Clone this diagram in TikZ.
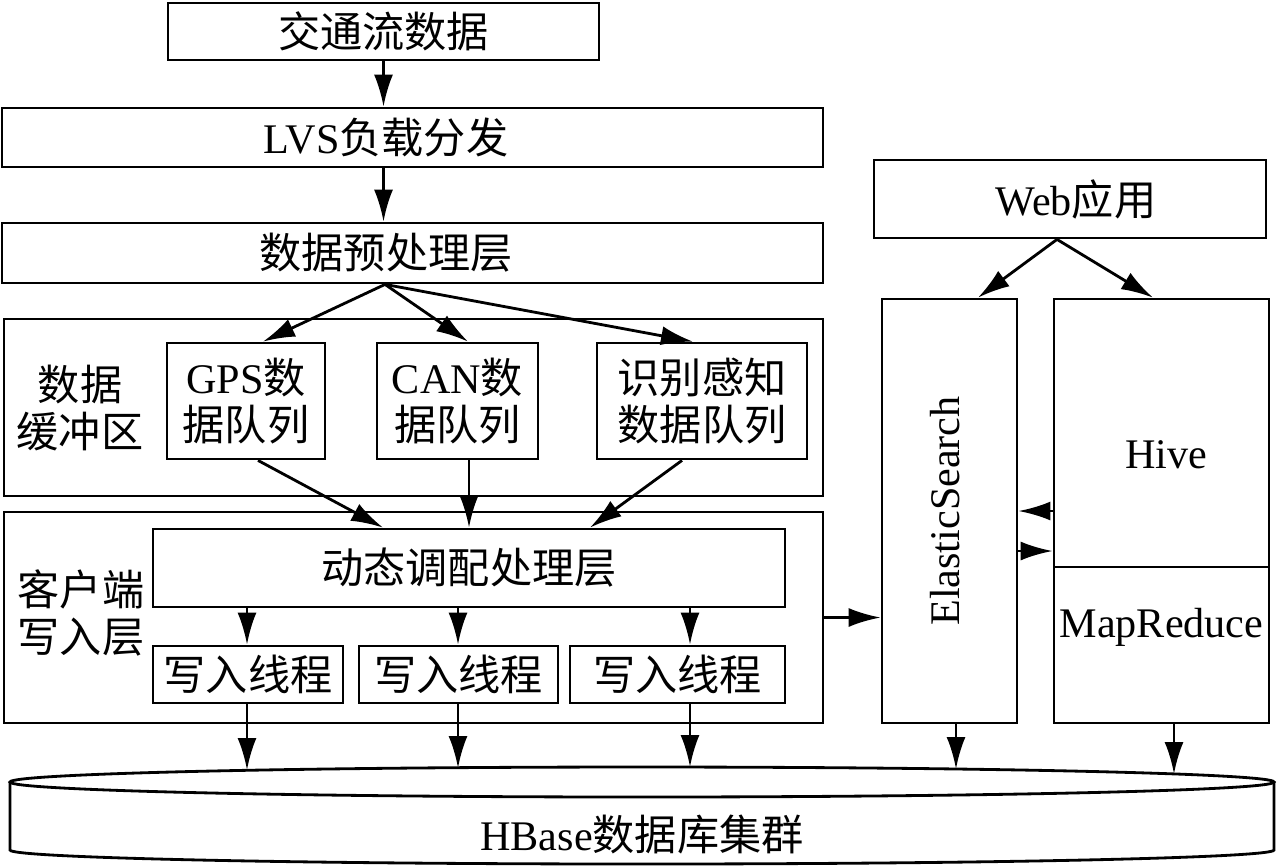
\documentclass[tikz,border=0pt]{standalone}
\usepackage{fontspec}
\setmainfont{Liberation Serif}
\newfontfamily\cjk{Noto Sans CJK SC}
\usetikzlibrary{arrows.meta,calc}

\tikzset{
  box/.style={draw,line width=1.6pt,inner sep=0pt},
  arr/.style={-{Latex[length=0.64cm,width=0.38cm]},line width=1.6pt},
}

\begin{document}
\begin{tikzpicture}[x=0.02cm,y=-0.02cm,font=\fontsize{24}{27}\selectfont\cjk]
\useasboundingbox (0,0) rectangle (1280,867);

% input chain
\node[box,minimum width=8.62cm,minimum height=1.14cm] (src) at (383.5,31.5) {交通流数据};
\node[box,minimum width=16.42cm,minimum height=1.18cm,
  label={[xshift=-0.53cm]center:{{\rmfamily LVS}负载分发}}] (lvs) at (412.5,137.5) {};
\node[box,minimum width=16.42cm,minimum height=1.2cm,
  label={[xshift=-0.53cm]center:{数据预处理层}}] (pre) at (412.5,253) {};

% buffer area
\node[box,minimum width=16.38cm,minimum height=3.54cm] (buf) at (413.5,407.5) {};
\node[align=center] (buftxt) at (80,408) {数据\\缓冲区};
\node[box,align=center,minimum width=3.16cm,minimum height=2.32cm] (gps) at (246,401) {{\rmfamily GPS}数\\据队列};
\node[box,align=center,minimum width=3.22cm,minimum height=2.32cm] (can) at (457.5,401) {{\rmfamily CAN}数\\据队列};
\node[box,align=center,minimum width=4.2cm,minimum height=2.32cm] (rec) at (702,401) {识别感知\\数据队列};

% client write layer
\node[box,minimum width=16.38cm,minimum height=4.22cm] (cli) at (413.5,617.5) {};
\node[align=center] (clitxt) at (81,613) {客户端\\写入层};
\node[box,minimum width=12.64cm,minimum height=1.56cm] (dyn) at (469,568) {动态调配处理层};
\foreach \n/\x/\w in {w1/248/3.8,w2/458.5/3.98,w3/677.5/4.3}
  \node[box,minimum width=\w cm,minimum height=1.14cm] (\n) at (\x,674.5) {写入线程};

% right side
\node[box,minimum width=7.84cm,minimum height=1.56cm,
  label={[xshift=0.12cm]center:{{\rmfamily Web}应用}}] (web) at (1070,199) {};
\node[box,minimum width=2.7cm,minimum height=8.48cm,
  label={[rotate=90,yshift=0.08cm]center:{\rmfamily ElasticSearch}}] (es) at (949.5,511) {};
\node[box,minimum width=4.3cm,minimum height=5.36cm,
  label={[xshift=0.1cm,yshift=-0.44cm]center:{\rmfamily Hive}}] (hive) at (1161.5,433) {};
\node[box,minimum width=4.3cm,minimum height=3.12cm,
  label={[yshift=0.36cm]center:{\rmfamily MapReduce}}] (mr) at (1161.5,645) {};

% HBase cylinder
\draw[line width=1.6pt] (642,782) ellipse [x radius=632,y radius=15];
\draw[line width=1.6pt] (10,782) -- (10,850) arc[start angle=180,end angle=0,x radius=632,y radius=14] -- (1274,782);
\node (hb) at (642,834) {{\rmfamily HBase}数据库集群};
\coordinate (t1) at (247,770);
\coordinate (t2) at (458,768);
\coordinate (t3) at (690,767);
\coordinate (t4) at (956,769);
\coordinate (t5) at (1174,774);

% arrows
\draw[arr] (src.south) -- (src.south |- lvs.north);
\draw[arr] (lvs.south -| src.south) -- (pre.north -| src.south);
\coordinate (p0) at (pre.south -| 385,0);
\draw[arr] (p0) -- (gps.north -| 263,0);
\draw[arr] (p0) -- (can.north -| 468,0);
\draw[arr] (p0) -- (rec.north -| 693,0);
\draw[arr] (gps.south -| 258,0) -- (dyn.north -| 383,0);
\draw[arr] (can.south -| 469,0) -- (dyn.north -| 469,0);
\draw[arr] (rec.south -| 682,0) -- (dyn.north -| 590,0);
\foreach \n/\x in {w1/247,w2/458,w3/690}
  \draw[arr] (dyn.south -| \x,0) -- (\n.north -| \x,0);
\draw[arr] (w1.south -| t1) -- (t1);
\draw[arr] (w2.south -| t2) -- (t2);
\draw[arr] (w3.south -| t3) -- (t3);
\draw[arr] (es.south -| t4) -- (t4);
\draw[arr] (mr.south -| t5) -- (t5);
\draw[arr] (cli.east) -- (cli.east -| es.west);
\draw[arr] (hive.west |- 0,511) -- (es.east |- 0,511);
\draw[arr] (es.east |- 0,551) -- (hive.west |- 0,551);
\coordinate (wb) at (web.south -| 1057,0);
\draw[arr] (wb) -- (es.north -| 978,0);
\draw[arr] (wb) -- (hive.north -| 1153,0);
\end{tikzpicture}
\end{document}
